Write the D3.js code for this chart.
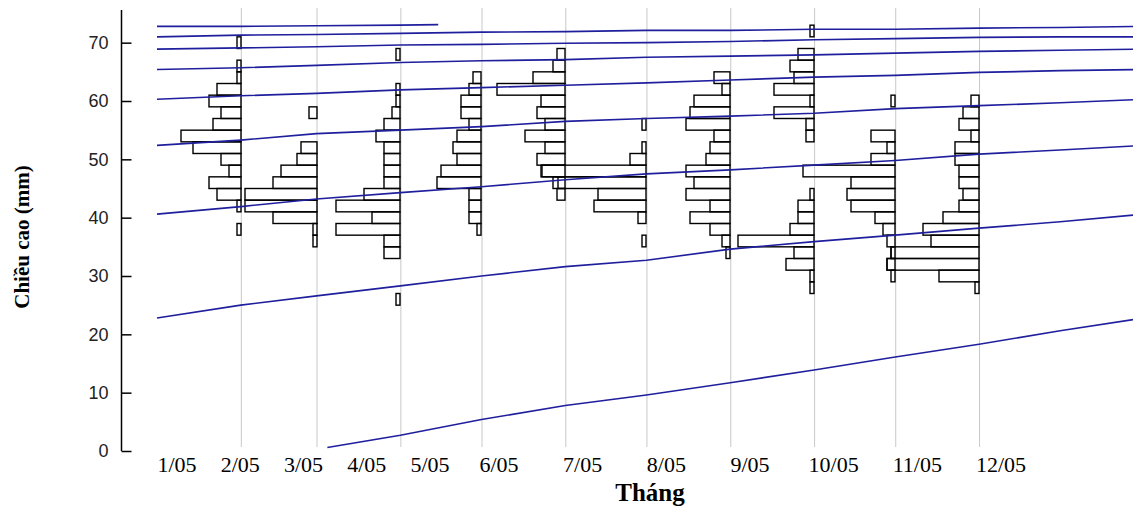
<!DOCTYPE html>
<html>
<head>
<meta charset="utf-8">
<script src="https://cdn.jsdelivr.net/npm/d3@7"></script>
<style>
  body { margin: 0; background: #fff; }
  .grid line { stroke: #c8c8c8; stroke-width: 1; }
  .bar { fill: none; stroke: #000; stroke-width: 1.4; }
  .curve { fill: none; stroke: #1f1f9e; stroke-width: 1.6; }
  .y.axis text { font-family: "Liberation Sans", Arial, sans-serif; font-size: 18px; fill: #222; }
  .y.axis line, .y.axis path { stroke: #000; stroke-width: 1.5; }
  .month { font-family: "Liberation Serif", "Times New Roman", serif; font-size: 22px; fill: #000; }
  .title { font-family: "Liberation Serif", "Times New Roman", serif; font-weight: bold; fill: #000; }
</style>
</head>
<body>
<svg id="chart" width="1133" height="506"></svg>
<script>
// length classes (mid-points, mm) and sampling dates
const lengthClasses = [26, 28, 30, 32, 34, 36, 38, 40, 42, 44, 46, 48,
                       50, 52, 54, 56, 58, 60, 62, 64, 66, 68, 70, 72];
const sampleDates = ["2005-02-01", "2005-03-01", "2005-04-01", "2005-05-01", "2005-06-01",
                     "2005-07-01", "2005-08-01", "2005-09-01", "2005-10-01", "2005-11-01"];

// frequencies per length class, one array per sample
const freqFeb = [0,0,0,0,0,0,1,0,1,6,8,3,5,12,15,7,5,8,6,1,1,0,1,0];
const freqMar = [0,0,0,0,0,1,1,11,18,18,11,9,5,4,0,0,2,0,0,0,0,0,0,0];
const freqApr = [1,0,0,0,4,4,16,7,16,9,4,4,4,4,6,4,2,1,1,0,0,1,0,0];
const freqMay = [0,0,0,0,0,0,1,3,3,3,11,10,6,7,6,3,5,5,3,2,0,0,0,0];
const freqJun = [0,0,0,0,0,0,0,0,0,2,3,6,7,5,10,5,7,6,17,8,3,2,0,0];
const freqJul = [0,0,0,0,0,1,0,2,13,12,22,26,4,1,0,1,0,0,0,0,0,0,0,0];
const freqAug = [0,0,0,0,1,2,5,10,5,11,9,11,6,5,4,11,10,9,2,4,0,0,0,0];
const freqSep = [0,1,1,7,5,19,6,4,4,1,0,0,0,0,2,2,10,1,10,5,6,4,0,1];
const freqOct = [0,0,1,2,1,2,3,5,11,12,11,23,6,2,6,0,0,1,0,0,0,0,0,0];
const freqNov = [0,1,10,23,22,12,14,9,5,4,5,5,6,6,2,5,4,2,0,0,0,0,0,0];

// growth curves (mm) read at the start of each month
const curveDates = ["2005-01-01", "2005-02-01", "2005-03-01", "2005-04-01", "2005-05-01",
                    "2005-06-01", "2005-07-01", "2005-08-01", "2005-09-01", "2005-10-01",
                    "2005-11-01", "2005-12-01", "2006-01-01"];
const cohortA = [22.8, 25.0, 26.6, 28.3, 30.0, 31.6, 32.7, 34.6, 35.9, 37.0, 38.2, 39.3, 40.6];
const cohortB = [40.6, 41.9, 43.2, 44.3, 45.3, 46.5, 47.5, 48.2, 49.0, 49.8, 50.9, 51.6, 52.4];
const cohortC = [52.4, 53.3, 54.4, 55.0, 55.6, 56.5, 57.0, 57.4, 57.9, 58.7, 59.2, 59.7, 60.3];
const cohortD = [60.3, 60.9, 61.3, 61.9, 62.3, 62.7, 63.1, 63.6, 64.1, 64.4, 64.9, 65.2, 65.4];
const cohortE = [65.4, 65.7, 66.1, 66.6, 66.9, 67.1, 67.5, 67.7, 67.9, 68.2, 68.5, 68.7, 68.9];
const cohortF = [68.9, 69.1, 69.3, 69.6, 69.7, 69.9, 70.0, 70.2, 70.5, 70.7, 70.9, 71.0, 71.0];
const cohortG = [71.0, 71.3, 71.4, 71.6, 71.8, 71.9, 72.1, 72.1, 72.3, 72.3, 72.5, 72.6, 72.8];
// youngest cohort (recruited in March) and oldest one (ends in April)
const recruitDates = ["2005-03-05", "2005-04-01", "2005-05-01", "2005-06-01", "2005-07-01", "2005-08-01",
                      "2005-09-01", "2005-10-01", "2005-11-01", "2005-12-01", "2006-01-01"];
const recruitLengths = [0.6, 2.7, 5.4, 7.8, 9.6, 11.7, 13.9, 16.1, 18.3, 20.6, 22.8];
const oldestDates = ["2005-01-01", "2005-02-01", "2005-03-01", "2005-04-01", "2005-04-15"];
const oldestLengths = [72.8, 72.8, 72.9, 73.0, 73.1];

const monthLabels = ["1/05", "2/05", "3/05", "4/05", "5/05", "6/05",
                     "7/05", "8/05", "9/05", "10/05", "11/05", "12/05"];
const yTicks = [0, 10, 20, 30, 40, 50, 60, 70];

const parse = d3.timeParse("%Y-%m-%d");
const svg = d3.select("#chart");

// scales
const x = d3.scaleTime()
    .domain([parse("2005-01-01"), parse("2006-01-01")])
    .range([157, 1144]);
const y = d3.scaleLinear().domain([0, 75.6]).range([451, 10]);
const freqW = d3.scaleLinear().domain([0, 1]).range([0, 4]);   // 1 fish = 4px
const binHalf = 1;                                             // classes are 2 mm wide
// month captions are typed under the plot, not aligned on the sample lines
const labelX = d3.scaleLinear().domain([0, 4, 5, 11]).range([177, 430, 499, 1001]);

// vertical lines at each sampling date
svg.append("g").attr("class", "grid")
  .selectAll("line")
  .data(sampleDates)
  .join("line")
    .attr("x1", d => x(parse(d)) + 0.5).attr("x2", d => x(parse(d)) + 0.5)
    .attr("y1", 8).attr("y2", 447);

// y axis, ticks pointing inward
svg.append("g").attr("class", "y axis")
    .attr("transform", "translate(121.5,0)")
    .call(d3.axisLeft(y).tickValues(yTicks).tickSize(-10).tickSizeOuter(0).tickPadding(13))
    .call(g => g.select(".domain").attr("d", "M0," + y(75.6) + "V" + y(0)));

// histograms: bars grow to the left of each sampling line
const samples = [freqFeb, freqMar, freqApr, freqMay, freqJun,
                 freqJul, freqAug, freqSep, freqOct, freqNov];

samples.forEach(function(freq, s) {
    const base = Math.round(x(parse(sampleDates[s])));
    const bars = lengthClasses
        .map((c, i) => ({ c: c, n: freq[i] }))
        .filter(d => d.n > 0);
    svg.append("g").selectAll("rect")
      .data(bars)
      .join("rect")
        .attr("class", "bar")
        .attr("x", d => base - freqW(d.n))
        .attr("y", d => y(d.c + binHalf))
        .attr("width", d => freqW(d.n))
        .attr("height", d => y(d.c - binHalf) - y(d.c + binHalf));
});

// growth curves
const line = d3.line()
    .x(d => x(parse(d[0])))
    .y(d => y(d[1]));

const cohorts = [cohortA, cohortB, cohortC, cohortD, cohortE, cohortF, cohortG];
const curves = cohorts.map(c => curveDates.map((d, i) => [d, c[i]]));
curves.push(recruitDates.map((d, i) => [d, recruitLengths[i]]));
curves.push(oldestDates.map((d, i) => [d, oldestLengths[i]]));

svg.append("g").selectAll("path")
  .data(curves)
  .join("path")
    .attr("class", "curve")
    .attr("d", line);

// month captions
svg.append("g").selectAll("text")
  .data(monthLabels)
  .join("text")
    .attr("class", "month")
    .attr("x", (d, i) => labelX(i))
    .attr("y", 472)
    .attr("text-anchor", "middle")
    .text(d => d);

// axis titles
svg.append("text")
    .attr("class", "title")
    .attr("transform", "translate(29,237) rotate(-90)")
    .attr("text-anchor", "middle")
    .style("font-size", "21px")
    .text("Chiều cao (mm)");

svg.append("text")
    .attr("class", "title")
    .attr("x", 650).attr("y", 501)
    .attr("text-anchor", "middle")
    .style("font-size", "25px")
    .text("Tháng");
</script>
</body>
</html>
